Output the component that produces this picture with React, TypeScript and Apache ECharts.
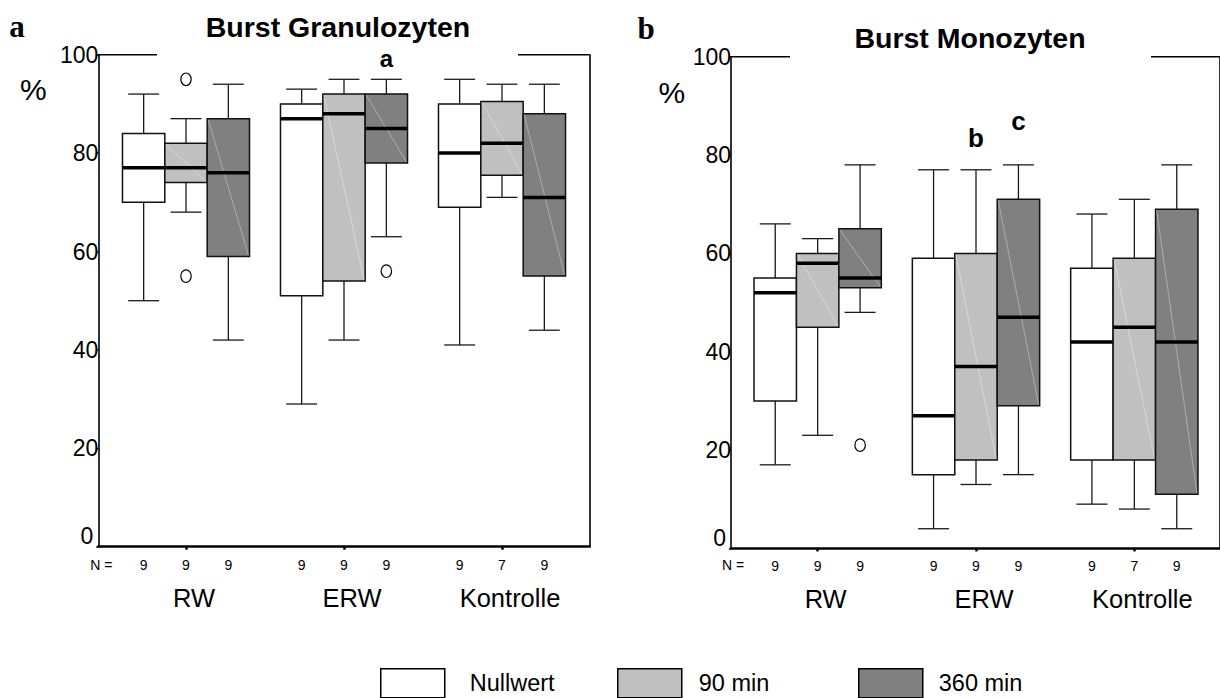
import { useEffect, useRef } from 'react';
import * as echarts from 'echarts';

// Categories and time points
const groups = ['RW', 'ERW', 'Kontrolle'];
const timePoints = ['Nullwert', '90 min', '360 min'];
const fillColors = ['#ffffff', '#c0c0c0', '#808080'];
const yTicks = [0, 20, 40, 60, 80, 100];

// Burst Granulozyten: [min, Q1, median, Q3, max] for RW, ERW, Kontrolle
const granNull = [[50, 70, 77, 84, 92], [29, 51, 87, 90, 93], [41, 69, 80, 90, 95]];
const gran90 = [[68, 74, 77, 82, 87], [42, 54, 88, 92, 95], [71, 75.5, 82, 90.5, 94]];
const gran360 = [[42, 59, 76, 87, 94], [63, 78, 85, 92, 95], [44, 55, 71, 88, 94]];
// sample sizes per time point (RW, ERW, Kontrolle)
const granCounts = [[9, 9, 9], [9, 9, 7], [9, 9, 9]];
// outliers: [group index, time index, value]
const granOutliers = [[0, 1, 95], [0, 1, 55], [1, 2, 56]];
// significance marks: [group index, time index, value] and their letters
const granMarks = [[1, 2, 99.2]];
const granMarkText = ['a'];

// Burst Monozyten
const monoNull = [[17, 30, 52, 55, 66], [4, 15, 27, 59, 77], [9, 18, 42, 57, 68]];
const mono90 = [[23, 45, 58, 60, 63], [13, 18, 37, 60, 77], [8, 18, 45, 59, 71]];
const mono360 = [[48, 53, 55, 65, 78], [15, 29, 47, 71, 78], [4, 11, 42, 69, 78]];
const monoCounts = [[9, 9, 9], [9, 9, 7], [9, 9, 9]];
const monoOutliers = [[0, 2, 21]];
const monoMarks = [[1, 1, 83.5], [1, 2, 86.9]];
const monoMarkText = ['b', 'c'];

const SANS = '"Liberation Sans", Arial, Helvetica, sans-serif';
const SERIF = '"Liberation Serif", "Times New Roman", serif';

const BOX_FRAC = 0.268; // box width as a share of the category band
const CAP_FRAC = 0.73; // whisker cap width as a share of the box width

function boxX(api: any, g: number, t: number) {
  const origin = api.coord([g, 0]);
  const band = api.size([1, 0])[0];
  const bw = band * BOX_FRAC;
  return { cx: origin[0] + (t - 1) * bw, bw, y0: origin[1] };
}

function boxRenderer(t: number) {
  return (_params: any, api: any) => {
    const g = api.value(0);
    const { cx, bw, y0 } = boxX(api, g, t);
    const y = (i: number) => api.coord([g, api.value(i)])[1];
    const yMin = y(1);
    const yQ1 = y(2);
    const yMed = y(3);
    const yQ3 = y(4);
    const yMax = y(5);
    const n = api.value(6);
    const half = bw / 2;
    const cap = (bw * CAP_FRAC) / 2;
    const whisker = { stroke: '#1a1a1a', lineWidth: 1.3 };
    const children: any[] = [
      { type: 'line', shape: { x1: cx, y1: yMax, x2: cx, y2: yQ3 }, style: whisker },
      { type: 'line', shape: { x1: cx, y1: yQ1, x2: cx, y2: yMin }, style: whisker },
      { type: 'line', shape: { x1: cx - cap, y1: yMax, x2: cx + cap, y2: yMax }, style: whisker },
      { type: 'line', shape: { x1: cx - cap, y1: yMin, x2: cx + cap, y2: yMin }, style: whisker },
      {
        type: 'rect',
        shape: { x: cx - half, y: yQ3, width: bw, height: yQ1 - yQ3 },
        style: { fill: fillColors[t], stroke: '#111', lineWidth: 1.5 },
      },
    ];
    if (t > 0) {
      children.push({
        type: 'line',
        shape: { x1: cx - half + 1, y1: yQ3 + 1, x2: cx + half - 1, y2: yQ1 - 1 },
        style: { stroke: 'rgba(255,255,255,0.45)', lineWidth: 0.8 },
      });
    }
    children.push(
      {
        type: 'line',
        shape: { x1: cx - half, y1: yMed, x2: cx + half, y2: yMed },
        style: { stroke: '#000', lineWidth: 3.5 },
      },
      {
        type: 'text',
        style: {
          text: String(n),
          x: cx,
          y: y0 + 18,
          align: 'center',
          verticalAlign: 'middle',
          fontSize: 14,
          fontFamily: SANS,
          fill: '#000',
        },
      }
    );
    return { type: 'group', children };
  };
}

function outlierRenderer(_params: any, api: any) {
  const g = api.value(0);
  const t = api.value(1);
  const { cx } = boxX(api, g, t);
  const cy = api.coord([g, api.value(2)])[1];
  return {
    type: 'ellipse',
    shape: { cx, cy, rx: 5.2, ry: 6.3 },
    style: { fill: 'none', stroke: '#000', lineWidth: 1.2 },
  };
}

function markRenderer(texts: string[], size: number) {
  return (params: any, api: any) => {
    const g = api.value(0);
    const t = api.value(1);
    const { cx } = boxX(api, g, t);
    const cy = api.coord([g, api.value(2)])[1];
    return {
      type: 'text',
      style: {
        text: texts[params.dataIndex],
        x: cx,
        y: cy,
        align: 'center',
        verticalAlign: 'middle',
        fontSize: size,
        fontWeight: 'bold',
        fontFamily: SANS,
        fill: '#000',
      },
    };
  };
}

function boxSeries(summaries: number[][][], counts: number[][], xAxisIndex: number, yAxisIndex: number) {
  return summaries.map((summary, t) => ({
    type: 'custom',
    name: timePoints[t],
    xAxisIndex,
    yAxisIndex,
    itemStyle: { color: fillColors[t], borderColor: '#000' },
    encode: { x: 0, y: [1, 2, 3, 4, 5] },
    renderItem: boxRenderer(t),
    data: groups.map((name, g) => [name, ...summary[g], counts[t][g]]),
  }));
}

// panel geometry (pixels)
const panels = [
  { left: 98.3, top: 54.7, width: 491.1, height: 492, catLeft: 107, catWidth: 474 },
  { left: 731, top: 56.7, width: 491, height: 491.7, catLeft: 738.5, catWidth: 475 },
];

function frameAxes(i: number) {
  const p = panels[i];
  return {
    grids: [
      { left: p.left, top: p.top, width: p.width, height: p.height },
      { left: p.catLeft, top: p.top, width: p.catWidth, height: p.height },
    ],
    xAxes: [
      {
        type: 'value',
        gridIndex: i * 2,
        min: 0,
        max: 1,
        axisLine: { show: true, lineStyle: { color: '#000', width: 2.5 } },
        axisTick: { show: false },
        axisLabel: { show: false },
        splitLine: { show: false },
      },
      {
        type: 'category',
        gridIndex: i * 2 + 1,
        data: groups,
        boundaryGap: true,
        axisLine: { show: false },
        axisTick: { show: true, alignWithLabel: true, length: 3, lineStyle: { color: '#000', width: 2.5 } },
        axisLabel: {
          show: true,
          color: '#000',
          fontSize: 25.5,
          fontFamily: SANS,
          margin: 38,
          padding: [0, 0, 0, 16],
        },
        splitLine: { show: false },
      },
    ],
    yAxes: [
      {
        type: 'value',
        gridIndex: i * 2,
        min: 0,
        max: 100,
        interval: 20,
        axisLine: { show: true, lineStyle: { color: '#000', width: 1.6 } },
        axisTick: { show: true, length: 2, lineStyle: { color: '#000', width: 1.5 } },
        axisLabel: {
          color: '#000',
          fontSize: 23,
          fontFamily: SANS,
          margin: 0,
          formatter: (v: number) => (v === yTicks[0] ? '{z|' + v + '}' : String(v)),
          rich: { z: { fontSize: 23, fontFamily: SANS, color: '#000', padding: [0, 5, 21, 0] } },
        },
        splitLine: { show: false },
      },
      {
        type: 'value',
        gridIndex: i * 2,
        position: 'right',
        min: 0,
        max: 100,
        interval: 20,
        axisLine: { show: true, lineStyle: { color: '#000', width: 1.6 } },
        axisTick: { show: false },
        axisLabel: { show: false },
        splitLine: { show: false },
      },
      { type: 'value', gridIndex: i * 2 + 1, min: 0, max: 100, show: false },
    ],
  };
}

function legendItem(name: string, t: number, left: number, textPad: number[]) {
  return {
    data: [name],
    left,
    top: 668,
    padding: 0,
    icon: 'rect',
    itemWidth: 64,
    itemHeight: 29,
    selectedMode: false,
    itemStyle: { color: fillColors[t], borderColor: '#000', borderWidth: 1.5 },
    textStyle: { color: '#000', fontSize: 23.5, fontFamily: SANS, padding: textPad },
  };
}

export default function App() {
  const ref = useRef<HTMLDivElement>(null);

  useEffect(() => {
    if (!ref.current) return;
    const chart = echarts.init(ref.current, null, { renderer: 'svg' });
    const a = frameAxes(0);
    const b = frameAxes(1);
    const line = { stroke: '#000', lineWidth: 1.6 };
    const textStyle = (text: string, x: number, y: number, size: number, extra: any = {}) => ({
      type: 'text',
      style: {
        text,
        x,
        y,
        align: 'center',
        verticalAlign: 'middle',
        fontSize: size,
        fontFamily: SANS,
        fill: '#000',
        ...extra,
      },
    });

    chart.setOption({
      animation: false,
      backgroundColor: '#ffffff',
      grid: [...a.grids, ...b.grids],
      xAxis: [...a.xAxes, ...b.xAxes],
      yAxis: [...a.yAxes, ...b.yAxes],
      legend: [
        legendItem(timePoints[0], 0, 380, [0, 0, 0, 20]),
        legendItem(timePoints[1], 1, 617, [0, 0, 0, 12]),
        legendItem(timePoints[2], 2, 858, [12, 0, 0, 11]),
      ],
      graphic: [
        // broken top border of each panel
        { type: 'line', shape: { x1: 98.3, y1: 54.7, x2: 157, y2: 54.7 }, style: line },
        { type: 'line', shape: { x1: 518, y1: 54.7, x2: 589.4, y2: 54.7 }, style: line },
        { type: 'line', shape: { x1: 731, y1: 56.7, x2: 790, y2: 56.7 }, style: line },
        { type: 'line', shape: { x1: 1151, y1: 56.7, x2: 1220, y2: 56.7 }, style: line },
        textStyle('Burst Granulozyten', 338, 26.5, 28.5, { fontWeight: 'bold' }),
        textStyle('Burst Monozyten', 970, 38, 28.5, { fontWeight: 'bold' }),
        textStyle('a', 17, 26.5, 31, { fontWeight: 'bold', fontFamily: SERIF }),
        textStyle('b', 646, 28.5, 31, { fontWeight: 'bold', fontFamily: SERIF }),
        textStyle('%', 33.3, 89.5, 30),
        textStyle('%', 671.8, 92, 30),
        textStyle('N =', 101.3, 565, 14),
        textStyle('N =', 733, 565.3, 14),
      ],
      series: [
        ...boxSeries([granNull, gran90, gran360], granCounts, 1, 2),
        {
          type: 'custom',
          xAxisIndex: 1,
          yAxisIndex: 2,
          encode: { x: 0, y: 2 },
          renderItem: outlierRenderer,
          data: granOutliers,
        },
        {
          type: 'custom',
          xAxisIndex: 1,
          yAxisIndex: 2,
          encode: { x: 0, y: 2 },
          renderItem: markRenderer(granMarkText, 24),
          data: granMarks,
        },
        ...boxSeries([monoNull, mono90, mono360], monoCounts, 3, 5),
        {
          type: 'custom',
          xAxisIndex: 3,
          yAxisIndex: 5,
          encode: { x: 0, y: 2 },
          renderItem: outlierRenderer,
          data: monoOutliers,
        },
        {
          type: 'custom',
          xAxisIndex: 3,
          yAxisIndex: 5,
          encode: { x: 0, y: 2 },
          renderItem: markRenderer(monoMarkText, 26),
          data: monoMarks,
        },
      ],
    });
    return () => chart.dispose();
  }, []);

  return (
    <div
      ref={ref}
      style={{ position: 'fixed', left: 0, top: 0, width: 1220, height: 698, background: '#fff' }}
    />
  );
}
